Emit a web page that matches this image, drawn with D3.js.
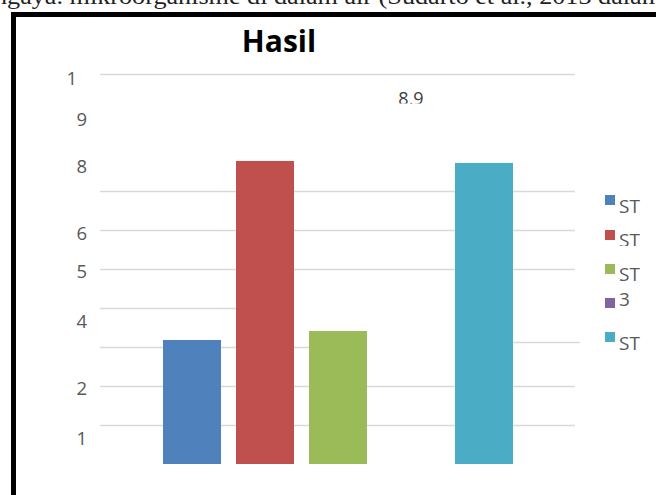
<!DOCTYPE html>
<html>
<head>
<meta charset="utf-8">
<script src="https://cdn.jsdelivr.net/npm/d3@7"></script>
<style>
  html, body { margin: 0; padding: 0; background: #fff; }
  svg { display: block; }
</style>
</head>
<body>
<svg id="chart" width="656" height="495"></svg>
<script>
'use strict';

// series (one bar per series, single category)
var seriesNames = ['ST', 'ST', 'ST', '3', 'ST'],
    seriesValues = [3.18, 7.77, 3.41, 8.9, 7.72],
    seriesColors = ['#4f81bd', '#c0504d', '#9bbb59', '#8064a2', '#4bacc6'],
    hiddenBars = [false, false, false, true, false];

// gridlines and the (scrambled) tick labels
var gridValues = [1, 2, 3, 4, 5, 6, 7, 10],
    tickLabels = ['1', '9', '8', '6', '5', '4', '2', '1'],
    tickLabelValues = [9.9, 8.85, 7.62, 5.92, 4.94, 3.66, 1.93, 0.67];

var titleText = 'Hasil',
    captionText = 'ngaya. mikroorganisme di dalam air (Sudarto et al., 2013 dalam';

var svg = d3.select('#chart'),
    font = '"Open Sans", "Noto Sans", sans-serif',
    grey = '#595959';

var y = d3.scaleLinear().domain([0, 10]).range([464, 74]),
    x = d3.scaleBand()
        .domain(d3.range(seriesNames.length))
        .range([155.7, 520.3])
        .paddingInner(0.2055)
        .paddingOuter(0.1);

var bars = seriesValues.map(function(v, i) {
    return {i: i, value: v, color: seriesColors[i], hidden: hiddenBars[i]};
});

// clipped line of body text above the figure
svg.append('text')
    .attr('x', -6)
    .attr('y', 4)
    .attr('textLength', 668)
    .attr('lengthAdjust', 'spacingAndGlyphs')
    .attr('font-family', '"Liberation Serif", "DejaVu Serif", serif')
    .attr('font-size', 24)
    .attr('fill', '#222')
    .text(captionText);

// frame
svg.append('rect')
    .attr('x', 13.5)
    .attr('y', 14.5)
    .attr('width', 700)
    .attr('height', 600)
    .attr('fill', '#fff')
    .attr('stroke', '#000')
    .attr('stroke-width', 5);

svg.append('text')
    .attr('x', 279)
    .attr('y', 52)
    .attr('text-anchor', 'middle')
    .attr('font-family', font)
    .attr('font-weight', 'bold')
    .attr('font-size', 30)
    .attr('fill', '#000')
    .text(titleText);

// gridlines (a couple of them stop short in the original)
var gridStop = {3: x(2), 4: x(1)};
svg.append('g').selectAll('line')
    .data(gridValues)
    .enter().append('line')
        .attr('x1', 100)
        .attr('x2', function(d) { return gridStop[d] || 575; })
        .attr('y1', function(d) { return Math.round(y(d)) + 0.5; })
        .attr('y2', function(d) { return Math.round(y(d)) + 0.5; })
        .attr('stroke', '#d9d9d9')
        .attr('stroke-width', 1.6);

// stray piece of gridline right of the last bar
svg.append('line')
    .attr('x1', x(4) + x.bandwidth())
    .attr('x2', 580)
    .attr('y1', Math.round(y(3.13)) + 0.5)
    .attr('y2', Math.round(y(3.13)) + 0.5)
    .attr('stroke', '#d9d9d9')
    .attr('stroke-width', 1.6);

svg.append('g').selectAll('text')
    .data(tickLabels)
    .enter().append('text')
        .attr('x', function(d, i) { return i === 0 ? 77 : 87; })
        .attr('y', function(d, i) { return y(tickLabelValues[i]); })
        .attr('dy', '0.36em')
        .attr('text-anchor', 'end')
        .attr('font-family', font)
        .attr('font-size', 18.5)
        .attr('fill', grey)
        .text(function(d) { return d; });

// bars (the fourth one is blanked out in the original)
svg.append('g').selectAll('rect')
    .data(bars.filter(function(d) { return !d.hidden; }))
    .enter().append('rect')
        .attr('x', function(d) { return x(d.i); })
        .attr('y', function(d) { return y(d.value); })
        .attr('width', x.bandwidth())
        .attr('height', function(d) { return y(0) - y(d.value); })
        .attr('fill', function(d) { return d.color; });

// data label of the hidden bar, cut off at the bottom
var defs = svg.append('defs');
defs.append('clipPath').attr('id', 'labelClip')
    .append('rect').attr('x', 0).attr('y', 80).attr('width', 656).attr('height', 23.5);

svg.append('text')
    .attr('clip-path', 'url(#labelClip)')
    .attr('x', x(3) + x.bandwidth() / 2)
    .attr('y', y(seriesValues[3]) - 12)
    .attr('text-anchor', 'middle')
    .attr('font-family', font)
    .attr('font-size', 18)
    .attr('fill', '#404040')
    .text(d3.format('.1f')(seriesValues[3]));

// legend
var legendY = [200, 235, 269, 303, 337],
    legendTextY = [206, 240, 274, 299, 343];

defs.append('clipPath').attr('id', 'legClip')
    .append('rect').attr('x', 600).attr('y', 225).attr('width', 56).attr('height', 21);

var legend = svg.append('g').selectAll('g')
    .data(seriesNames)
    .enter().append('g');

legend.append('rect')
    .attr('x', 605)
    .attr('y', function(d, i) { return legendY[i] - 5; })
    .attr('width', 10)
    .attr('height', 10)
    .attr('fill', function(d, i) { return seriesColors[i]; });

legend.append('text')
    .attr('clip-path', function(d, i) { return i === 1 ? 'url(#legClip)' : null; })
    .attr('x', 619)
    .attr('y', function(d, i) { return legendTextY[i]; })
    .attr('dy', '0.36em')
    .attr('font-family', font)
    .attr('font-size', 19)
    .attr('fill', grey)
    .text(function(d) { return d; });
</script>
</body>
</html>
